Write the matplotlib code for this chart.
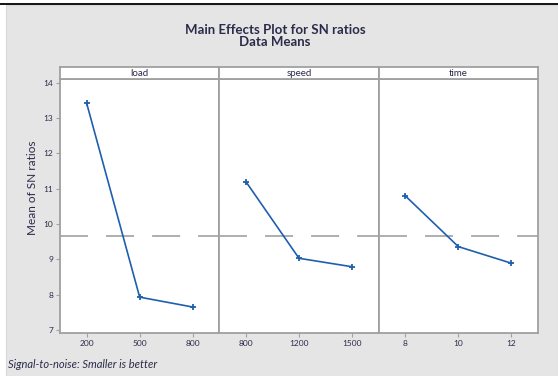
import matplotlib
matplotlib.use("Agg")
import matplotlib.pyplot as plt
from matplotlib.patches import Rectangle
from matplotlib.lines import Line2D

factors = ["load", "speed", "time"]
levels = [["200", "500", "800"], ["800", "1200", "1500"], ["8", "10", "12"]]
sn_means = [
    [13.43, 7.93, 7.65],
    [11.20, 9.03, 8.79],
    [10.80, 9.36, 8.89],
]
grand_mean = 9.67
yticks = [7, 8, 9, 10, 11, 12, 13, 14]

plt.rcParams['font.family'] = ['Lato', 'DejaVu Sans']

W, H = 558, 376
fig = plt.figure(figsize=(W / 100, H / 100), dpi=100)
fig.patch.set_facecolor("white")

# gray background panel and top black border
fig.add_artist(Rectangle((6 / W, 0), 1 - 6 / W, 1 - 5 / H, transform=fig.transFigure,
                         facecolor="#e5e5e5", edgecolor="#d8d8d8", lw=0.8, zorder=0))
fig.add_artist(Line2D([0, 1], [1 - 3.5 / H, 1 - 3.5 / H], transform=fig.transFigure,
                      color="black", lw=1.3))

text_col = "#2b2b4a"
edge_col = "#a0a0a0"
line_col = "#1f5fae"

left_px, right_px = 60, 538
bottom_px, top_px = 333, 79
strip_top = 67
pw = (right_px - left_px) / 3

axes = []
for i, (fac, lev, vals) in enumerate(zip(factors, levels, sn_means)):
    x0 = left_px + i * pw
    ax = fig.add_axes([x0 / W, 1 - bottom_px / H, pw / W, (bottom_px - top_px) / H])
    ax.set_facecolor("white")
    xs = list(range(1, len(lev) + 1))
    ax.plot(xs, vals, color=line_col, lw=1.2, marker="+", ms=4, mew=1.3, zorder=3)
    ax.axhline(grand_mean, color="#a8a8a8", lw=1.3, dashes=(15.5, 10), zorder=2)
    ax.set_xlim(0.5, 3.5)
    ax.set_ylim(6.915, 14.105)
    ax.set_xticks(xs)
    ax.set_xticklabels(lev)
    ax.set_yticks(yticks)
    for s in ax.spines.values():
        s.set_color(edge_col)
        s.set_linewidth(1.3)
    ax.tick_params(axis="both", colors=edge_col, labelcolor=text_col, labelsize=6,
                   length=3, width=0.8, pad=2)
    if i > 0:
        ax.tick_params(axis="y", left=False, labelleft=False)
    # strip
    sax = fig.add_axes([x0 / W, 1 - top_px / H, pw / W, (top_px - strip_top) / H])
    sax.set_facecolor("white")
    sax.set_xticks([])
    sax.set_yticks([])
    for s in sax.spines.values():
        s.set_color(edge_col)
        s.set_linewidth(1.3)
    sax.text(0.5, 0.5, fac, ha="center", va="center", fontsize=7, color=text_col,
             transform=sax.transAxes)
    axes.append(ax)

fig.text(275 / W, 1 - 30 / H, "Main Effects Plot for SN ratios", ha="center", va="center",
         fontsize=9.5, fontweight="bold", color=text_col)
fig.text(275 / W, 1 - 42 / H, "Data Means", ha="center", va="center",
         fontsize=9.5, fontweight="bold", color=text_col)
fig.text(32 / W, 1 - 188 / H, "Mean of SN ratios", rotation=90, ha="center", va="center",
         fontsize=8.5, color=text_col)
fig.text(8 / W, 1 - 365 / H, "Signal-to-noise: Smaller is better", ha="left", va="center",
         fontsize=8, style="italic", color=text_col)

fig.savefig("out.png", dpi=100, facecolor=fig.get_facecolor())
